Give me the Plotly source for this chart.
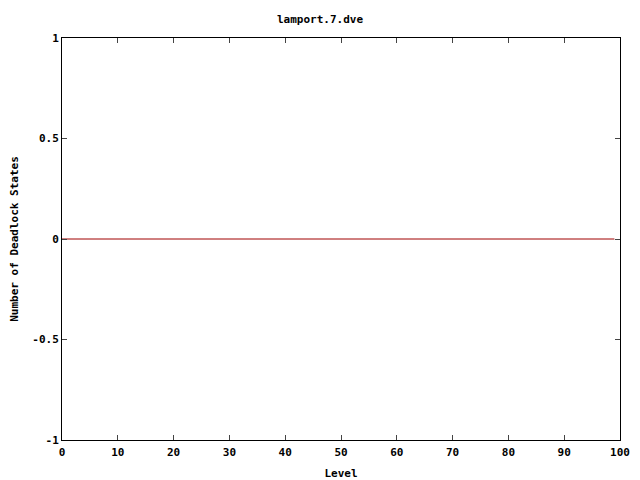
import plotly.graph_objects as go

levels = list(range(0, 100))
deadlocks = [0] * 100
x_ticks = list(range(0, 101, 10))
y_ticks = [-1, -0.5, 0, 0.5, 1]
y_tick_labels = ["-1", "-0.5", "0", "0.5", "1"]

font = dict(family="DejaVu Sans Mono", size=11, color="black", weight="bold")

fig = go.Figure()
fig.add_trace(go.Scatter(x=levels, y=deadlocks, mode="lines",
                         line=dict(color="#a00000", width=1), showlegend=False))

fig.update_layout(
    width=640, height=480,
    margin=dict(l=62, r=20, t=38, b=40),
    paper_bgcolor="white", plot_bgcolor="white",
    font=font,
    title=dict(text="lamport.7.dve", x=0.5, xanchor="center", y=0.96, yanchor="middle",
               font=font),
)
fig.update_xaxes(range=[0, 100], tickvals=x_ticks, ticks="inside", ticklen=5,
                 mirror="ticks", showline=True, linecolor="black", linewidth=1,
                 showgrid=False, zeroline=False, tickfont=font, automargin=False,
                 ticklabelstandoff=2,
                 title=dict(text="Level", font=font, standoff=12))
fig.update_yaxes(range=[-1, 1], tickvals=y_ticks, ticktext=y_tick_labels,
                 ticks="inside", ticklen=5, mirror="ticks", showline=True,
                 linecolor="black", linewidth=1, showgrid=False, zeroline=False,
                 tickfont=font, automargin=False,
                 title=dict(text="Number of Deadlock States", font=font, standoff=11))

fig.write_html("out.html", config={"displayModeBar": False},
               post_script="document.body.style.margin='0';")
